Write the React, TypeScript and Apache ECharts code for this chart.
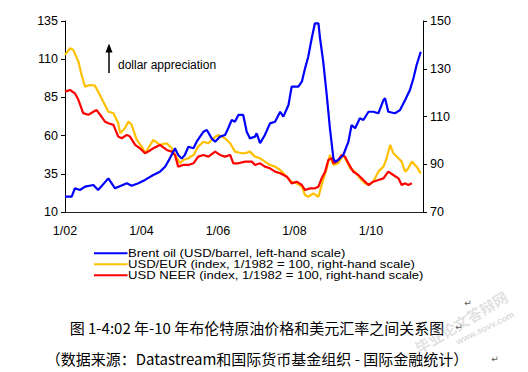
import React, { useEffect, useRef } from "react";
import * as echarts from "echarts";

// x positions are months since Jan 2002
const xTickLabels = ["1/02", "1/04", "1/06", "1/08", "1/10"];
const seriesNames = [
  "Brent oil (USD/barrel, left-hand scale)",
  "USD/EUR (index, 1/1982 = 100, right-hand scale)",
  "USD NEER (index, 1/1982 = 100, right-hand scale)",
];
const seriesColors = ["#0000FF", "#FFC000", "#FF0000"];

const brentMonths = [
  0, 2.1, 3.1, 4.7, 6.3, 8.9, 10.4, 13.6, 15.7, 19.4,
  20.9, 23, 25.1, 27.7, 29.8, 31.4, 32.9, 34.5, 35.5, 36.6,
  37.6, 38.7, 40.3, 41.3, 43.4, 44.5, 46, 47.1, 48.6, 50.2,
  51.2, 52.3, 53.3, 54.4, 55.9, 57, 58, 59.6, 60.1, 61.2,
  62.7, 64.3, 65.9, 67.5, 68.5, 70.1, 71.1, 73.2, 74.3, 75.3,
  76.3, 77.4, 78.4, 79.5, 80, 81, 82.1, 83.1, 84.2, 84.7,
  85.7, 87.3, 88.9, 89.9, 91, 92.5, 93.6, 95.2, 96.7, 98.3,
  99.9, 100.4, 101.4, 103.5, 105.1, 106.7, 108.2, 109.3, 110.3, 111.6,
];
const brentValues = [
  20, 20, 25.5, 24.4, 26.6, 27.7, 24.4, 32, 25.5, 28.8,
  27.2, 28.8, 31, 34.2, 36.4, 39.6, 45.1, 51.7, 47.3, 45,
  47.3, 52.7, 51.7, 56, 62.5, 63.7, 58.2, 56, 59.3, 60.4,
  64.8, 70.2, 69.1, 73.5, 73.5, 62.5, 58.2, 59.3, 61.5, 55,
  60.4, 68, 69.1, 75.6, 72.4, 80, 92, 92, 95.3, 104,
  111.6, 123.7, 133.5, 133.5, 123.7, 108.4, 86.6, 64.8, 45.1, 42.9,
  44, 47.3, 56, 66.9, 64.8, 71.3, 70.2, 75.6, 75.6, 74.6,
  83.3, 84.4, 75.6, 74.6, 76.7, 83.3, 89.8, 97.5, 106.2, 114.9,
];

const eurMonths = [
  0, 1.6, 2.6, 4.2, 5.2, 6.3, 7.8, 9.4, 10.4, 12,
  13.6, 15.2, 16.7, 17.3, 18.8, 19.9, 20.9, 22.5, 24.1, 25.1,
  26.1, 27.7, 29.8, 31.9, 33.5, 34.5, 36.1, 37.1, 38.7, 40.3,
  41.8, 43.4, 45, 46.5, 48.1, 50.2, 51.8, 53.3, 55.4, 56.5,
  58, 59.6, 61.2, 62.7, 64.3, 65.9, 67.5, 69, 71.1, 72.7,
  74.3, 75.3, 76.3, 77.9, 79.5, 80.5, 82.1, 83.1, 84.2, 85.7,
  87.3, 88.4, 89.4, 91, 92.5, 94.1, 95.2, 96.7, 98.3, 99.9,
  100.9, 102, 103, 104.6, 105.6, 106.7, 107.7, 108.8, 110.3, 111.6,
];
const eurValues = [
  135.8, 138.6, 137.9, 133, 127.4, 122.5, 123.2, 122.9, 120.4, 116.2,
  112, 111.4, 107.2, 103, 105.1, 107.9, 106.5, 100.2, 97.4, 94.6,
  96.7, 100.2, 98.1, 98.8, 96.7, 93.9, 90.4, 91.8, 92.5, 93.9,
  97.4, 99.4, 98.8, 100.9, 102.3, 100.9, 98.8, 95.3, 94.6, 94.6,
  95.3, 93.2, 92.5, 91.1, 89.7, 89, 87.6, 85.5, 82.7, 82,
  80.6, 77.1, 76.4, 77.8, 76.4, 81.3, 88.3, 93.9, 89.7, 90.4,
  93.9, 91.1, 88.3, 86.9, 84.1, 82, 81.3, 82.7, 86.9, 89,
  92.5, 98.1, 94.6, 92.5, 91.1, 86.9, 88.3, 91.1, 89, 86.2,
];

const neerMonths = [
  0, 1.6, 3.1, 4.2, 5.7, 7.3, 8.9, 9.9, 11.5, 12.5,
  13.6, 15.2, 16.7, 17.8, 19.4, 20.4, 22, 23.5, 25.1, 26.1,
  27.7, 29.8, 31.9, 33.5, 34.5, 35.5, 37.1, 38.7, 40.3, 41.8,
  43.4, 45, 47.1, 48.6, 50.2, 51.8, 52.8, 54.4, 56.5, 58.6,
  59.6, 61.2, 62.7, 64.3, 65.9, 67.5, 69.6, 71.1, 72.7, 74.3,
  75.3, 76.9, 78.4, 79.5, 80.5, 81.6, 82.6, 83.7, 84.2, 85.3,
  86.8, 87.8, 88.9, 90.4, 92, 93.6, 95.2, 96.7, 98.3, 99.9,
  101.4, 103, 104.6, 105.6, 106.7, 107.7, 108.8,
];
const neerValues = [
  120.4, 121.1, 119.7, 117, 111.4, 110.7, 112, 112.7, 109.9, 107.9,
  107.2, 106.5, 101.6, 100.9, 102.3, 101.6, 98.1, 96.7, 94.6, 95.3,
  96.7, 98.1, 96, 95.3, 93.9, 89, 89.7, 89.7, 90.4, 93.2,
  93.9, 93.2, 95.3, 93.9, 93.2, 93.9, 90.4, 90.4, 91.1, 91.1,
  89.7, 90.4, 89, 88.3, 86.9, 86.2, 84.8, 82, 82.7, 81.3,
  79.2, 79.9, 79.9, 80.6, 84.1, 86.9, 91.8, 92.5, 90.4, 91.1,
  93.9, 93.2, 90.4, 86.9, 85.5, 83.4, 81.3, 82.7, 83.4, 84.1,
  86.9, 85.5, 84.1, 81.3, 82, 81.3, 82,
];

const titleText = "图 1-4:02 年-10 年布伦特原油价格和美元汇率之间关系图";
const sourceText = "（数据来源：Datastream和国际货币基金组织 - 国际金融统计）";
const annotationText = "dollar appreciation";

const zip = (xs: number[], ys: number[]) => xs.map((x, i) => [x, ys[i]]);

const LATIN = "'Liberation Sans', Arial, sans-serif";
const CJK = "'Noto Sans CJK SC', sans-serif";

export default function App() {
  const ref = useRef<HTMLDivElement>(null);
  useEffect(() => {
    const chart = echarts.init(ref.current!, null, { renderer: "svg" });
    const axisLabel = { color: "#000", fontSize: 12.5, fontFamily: LATIN, margin: 7 };
    const legendRows = [253.2, 264.2, 275.2];
    const legendGraphics = seriesNames.flatMap((name, i) => [
      {
        type: "line",
        shape: { x1: 94, y1: legendRows[i], x2: 127.5, y2: legendRows[i] },
        style: { stroke: seriesColors[i], lineWidth: 2 },
      },
      {
        type: "text",
        x: 128,
        y: legendRows[i],
        scaleX: 1.19,
        style: {
          text: name,
          fontSize: 11,
          fontFamily: LATIN,
          fill: "#000",
          textVerticalAlign: "middle",
          verticalAlign: "middle",
        },
      },
    ]);
    chart.setOption({
      animation: false,
      backgroundColor: "#fff",
      grid: { left: 65, right: 105, top: 21, bottom: 160 },
      xAxis: {
        type: "value",
        min: 0,
        max: 112.3,
        interval: 24,
        axisLine: { show: true, onZero: false, lineStyle: { color: "#222", width: 1 } },
        axisTick: { show: false },
        splitLine: { show: false },
        axisLabel: {
          ...axisLabel,
          margin: 12,
          showMaxLabel: false,
          formatter: (v: number) => {
            const i = Math.round(v / 24);
            return Math.abs(v - i * 24) < 0.01 ? xTickLabels[i] ?? "" : "";
          },
        },
      },
      yAxis: [
        {
          type: "value",
          position: "left",
          min: 10,
          max: 135,
          interval: 25,
          axisLine: { show: true, lineStyle: { color: "#000", width: 1 } },
          axisTick: { show: true, inside: false, length: 4, lineStyle: { color: "#000" } },
          splitLine: { show: false },
          axisLabel,
        },
        {
          type: "value",
          position: "right",
          min: 70,
          max: 150,
          interval: 20,
          axisLine: { show: true, lineStyle: { color: "#000", width: 1 } },
          axisTick: { show: true, inside: false, length: 4, lineStyle: { color: "#000" } },
          splitLine: { show: false },
          axisLabel,
        },
      ],
      series: [
        {
          name: seriesNames[1],
          type: "line",
          yAxisIndex: 1,
          data: zip(eurMonths, eurValues),
          showSymbol: false,
          color: seriesColors[1],
          lineStyle: { color: seriesColors[1], width: 2.2 },
          z: 2,
        },
        {
          name: seriesNames[2],
          type: "line",
          yAxisIndex: 1,
          data: zip(neerMonths, neerValues),
          showSymbol: false,
          color: seriesColors[2],
          lineStyle: { color: seriesColors[2], width: 2.2 },
          z: 3,
        },
        {
          name: seriesNames[0],
          type: "line",
          yAxisIndex: 0,
          data: zip(brentMonths, brentValues),
          showSymbol: false,
          color: seriesColors[0],
          lineStyle: { color: seriesColors[0], width: 2.2 },
          z: 4,
        },
      ],
      graphic: [
        ...legendGraphics,
        {
          type: "line",
          shape: { x1: 109, y1: 73, x2: 109, y2: 51 },
          style: { stroke: "#000", lineWidth: 1.5 },
        },
        {
          type: "polygon",
          shape: { points: [[105.5, 52.5], [112.5, 52.5], [109, 43.5]] },
          style: { fill: "#000" },
        },
        {
          type: "text",
          x: 118,
          y: 65,
          style: {
            text: annotationText,
            fontSize: 12,
            fontFamily: LATIN,
            fill: "#000",
            textVerticalAlign: "middle",
            verticalAlign: "middle",
          },
        },
        {
          type: "text",
          x: 257,
          y: 327,
          style: {
            text: titleText,
            fontSize: 15,
            fontFamily: CJK,
            fill: "#000",
            textAlign: "center",
            align: "center",
            textVerticalAlign: "middle",
            verticalAlign: "middle",
          },
        },
        {
          type: "text",
          x: 257,
          y: 358,
          style: {
            text: sourceText,
            fontSize: 15,
            fontFamily: CJK,
            fill: "#000",
            textAlign: "center",
            align: "center",
            textVerticalAlign: "middle",
            verticalAlign: "middle",
          },
        },
        ...[
          [468, 303],
          [459, 327],
          [495, 359],
        ].map(([x, y]) => ({
          type: "text",
          x,
          y,
          style: {
            text: "↵",
            fontSize: 9,
            fontFamily: "'DejaVu Sans', sans-serif",
            fill: "#555",
            textAlign: "center",
            align: "center",
            textVerticalAlign: "middle",
            verticalAlign: "middle",
          },
        })),
        {
          type: "text",
          x: 461,
          y: 322,
          rotation: 0.54,
          z: 100,
          style: {
            text: "毕业论文答辩网",
            fontSize: 15,
            fontWeight: "bold",
            fontFamily: CJK,
            fill: "rgba(170,170,170,0.35)",
            textAlign: "center",
            align: "center",
            textVerticalAlign: "middle",
            verticalAlign: "middle",
          },
        },
        {
          type: "text",
          x: 485,
          y: 328,
          rotation: 0.46,
          z: 100,
          style: {
            text: "www.sovv.com",
            fontSize: 9,
            fontWeight: "bold",
            fontFamily: LATIN,
            fill: "rgba(170,170,170,0.45)",
            textAlign: "center",
            align: "center",
            textVerticalAlign: "middle",
            verticalAlign: "middle",
          },
        },
      ],
    });
    return () => chart.dispose();
  }, []);
  return (
    <div
      ref={ref}
      style={{ position: "absolute", left: 0, top: 0, width: 528, height: 372, background: "#fff" }}
    />
  );
}
